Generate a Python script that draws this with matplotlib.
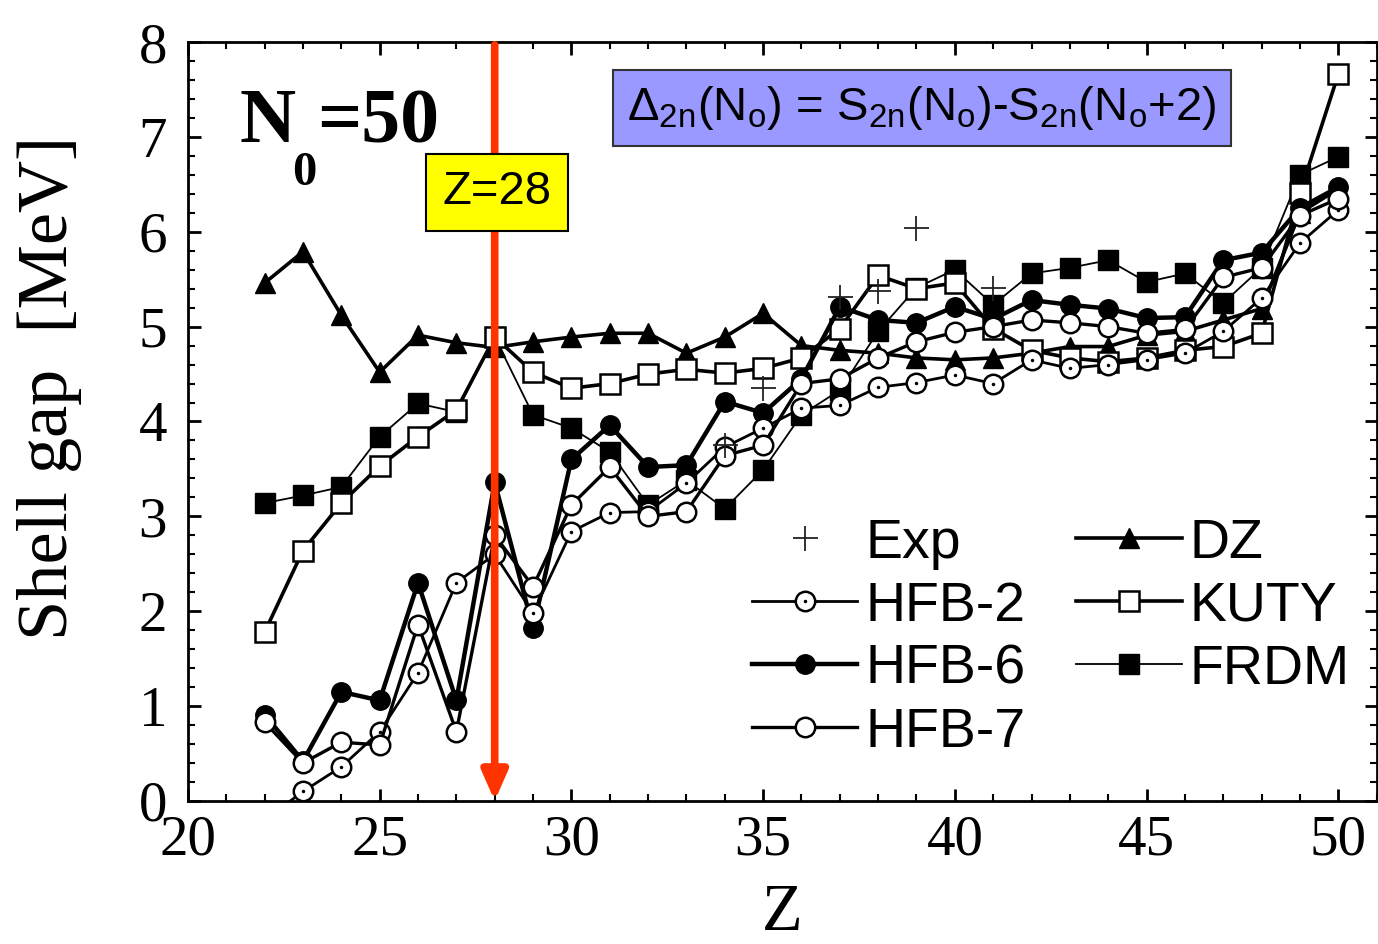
import numpy as np
import matplotlib
matplotlib.use('Agg')
import matplotlib.pyplot as plt
from matplotlib.ticker import MultipleLocator
from matplotlib.legend_handler import HandlerTuple

plt.rcParams['font.family'] = 'Liberation Serif'
plt.rcParams['mathtext.fontset'] = 'custom'
plt.rcParams['mathtext.rm'] = 'Liberation Sans'
plt.rcParams['mathtext.it'] = 'Liberation Sans:italic'
plt.rcParams['mathtext.bf'] = 'Liberation Sans:bold'
plt.rcParams['mathtext.default'] = 'regular'

# proton number Z for N0 = 50 isotones
Z = np.arange(22, 51)

dz = [5.46, 5.79, 5.12, 4.52, 4.91, 4.83, 4.78, 4.84, 4.89, 4.93, 4.93, 4.72, 4.89, 5.14, 4.80,
      4.75, 4.72, 4.67, 4.65, 4.67, 4.72, 4.79, 4.79, 4.91, 4.95, 5.07, 5.19, 6.20, 6.45]
kuty = [1.78, 2.64, 3.14, 3.53, 3.84, 4.12, 4.89, 4.52, 4.35, 4.40, 4.50, 4.55, 4.51, 4.56, 4.67,
        4.98, 5.54, 5.40, 5.46, 4.98, 4.75, 4.67, 4.63, 4.67, 4.75, 4.79, 4.93, 6.41, 7.66]
frdm = [3.14, 3.22, 3.31, 3.84, 4.19, 4.10, 4.89, 4.07, 3.93, 3.68, 3.12, 3.38, 3.08, 3.49, 4.07,
        4.33, 4.95, 5.41, 5.60, 5.23, 5.56, 5.62, 5.70, 5.47, 5.56, 5.25, 5.62, 6.60, 6.79]
hfb6 = [0.91, 0.42, 1.15, 1.06, 2.30, 1.06, 3.36, 1.82, 3.60, 3.96, 3.52, 3.54, 4.21, 4.09, 4.45,
        5.21, 5.07, 5.04, 5.21, 5.08, 5.28, 5.23, 5.19, 5.09, 5.10, 5.70, 5.78, 6.25, 6.47]
hfb7 = [0.83, 0.40, 0.62, 0.59, 1.86, 0.73, 2.80, 2.26, 3.12, 3.52, 3.00, 3.05, 3.64, 3.75, 4.40,
        4.45, 4.67, 4.84, 4.94, 5.00, 5.07, 5.04, 5.00, 4.93, 4.97, 5.52, 5.62, 6.17, 6.35]
hfb2 = [-0.20, 0.10, 0.36, 0.73, 1.35, 2.30, 2.60, 1.98, 2.84, 3.04, 3.05, 3.35, 3.73, 3.93, 4.14,
        4.17, 4.36, 4.41, 4.49, 4.40, 4.65, 4.56, 4.60, 4.65, 4.72, 4.95, 5.30, 5.88, 6.23]
z_exp = [34, 35, 37, 38, 39, 41]
exp = [3.75, 4.35, 5.31, 5.38, 6.04, 5.41]

fig = plt.figure(figsize=(13.78, 9.44), dpi=100)
ax = fig.add_axes([0.1364, 0.1515, 0.8626, 0.804])

ms = 14
l_dz, = ax.plot(Z, dz, '-^', color='k', lw=2.6, ms=ms, mfc='k', mec='k', zorder=2)
l_frdm, = ax.plot(Z, frdm, '-s', color='k', lw=1.3, ms=ms, mfc='k', mec='k', zorder=2)
l_kuty, = ax.plot(Z, kuty, '-s', color='k', lw=2.6, ms=ms, mfc='white', mec='k', mew=1.8, zorder=2)
l_hfb6, = ax.plot(Z, hfb6, '-o', color='k', lw=3.2, ms=ms, mfc='k', mec='k', zorder=3)
l_hfb2, = ax.plot(Z, hfb2, '-o', color='k', lw=2.0, ms=ms, mfc='white', mec='k', mew=1.8, zorder=3)
d_hfb2, = ax.plot(Z, hfb2, ls='none', marker='.', ms=3, color='k', zorder=3)
l_hfb7, = ax.plot(Z, hfb7, '-o', color='k', lw=2.4, ms=ms, mfc='white', mec='k', mew=1.8, zorder=3)
l_exp, = ax.plot(z_exp, exp, ls='none', marker='+', ms=18, mew=1.3, color='#222222', zorder=4)

ax.set_xlim(20, 51)
ax.set_ylim(0, 8)
ax.xaxis.set_major_locator(MultipleLocator(5))
ax.xaxis.set_minor_locator(MultipleLocator(1))
ax.yaxis.set_major_locator(MultipleLocator(1))
ax.yaxis.set_minor_locator(MultipleLocator(0.2))
ax.tick_params(which='both', direction='in', top=True, right=True)
ax.tick_params(which='major', length=9, width=2, labelsize=41)
ax.tick_params(axis='x', which='major', pad=10)
ax.tick_params(axis='y', which='major', pad=15)
ax.tick_params(which='minor', length=5, width=1.5)
for s in ax.spines.values():
    s.set_linewidth(2)

fig.text(782/1378, 1 - 914/944, 'Z', fontsize=48, ha='center', va='center')
fig.text(50/1378, 1 - 388/944, 'Shell gap  [MeV]', fontsize=52, rotation=90,
         ha='center', va='center')

# N0 = 50 label
ax.text(0.0437, 0.868, 'N', transform=ax.transAxes, fontsize=56, fontweight='bold')
ax.text(0.109, 0.868, '=50', transform=ax.transAxes, fontsize=56, fontweight='bold')
ax.text(0.088, 0.8116, '0', transform=ax.transAxes, fontsize=35, fontweight='bold')

ax.text(0.6176, 0.913, r'$\Delta_{2n}$(N$_o$) = S$_{2n}$(N$_o$)-S$_{2n}$(N$_o$+2)',
        transform=ax.transAxes, fontsize=34, family='Liberation Sans', ha='center', va='center',
        bbox=dict(boxstyle='square,pad=0.3', fc='#9999ff', ec='#333333', lw=1.5), zorder=6)

# Z = 28 marker
ax.annotate('', xy=(28, 0), xytext=(28, 7.97),
            arrowprops=dict(arrowstyle='-|>,head_length=0.8,head_width=0.35', color='#ff3300',
                            lw=5.5, mutation_scale=22, shrinkA=0, shrinkB=0), zorder=5)
ax.text(0.2597, 0.802, 'Z=28', transform=ax.transAxes, fontsize=34, family='Liberation Sans',
        ha='center', va='center',
        bbox=dict(boxstyle='square,pad=0.35', fc='yellow', ec='k', lw=1.5), zorder=6)

handles = [l_exp, (l_hfb2, d_hfb2), l_hfb6, l_hfb7, l_dz, l_kuty, l_frdm]
labels = ['Exp', 'HFB-2', 'HFB-6', 'HFB-7', 'DZ', 'KUTY', 'FRDM']
ax.legend(handles, labels, ncol=2, loc='upper left', bbox_to_anchor=(0.451, 0.41),
          frameon=False, borderpad=0, numpoints=1, handlelength=1.9, handletextpad=0.15,
          columnspacing=0.9, labelspacing=0.2,
          prop={'family': 'Liberation Sans', 'size': 40},
          handler_map={tuple: HandlerTuple(ndivide=1)})

fig.savefig('out.png', dpi=100)
